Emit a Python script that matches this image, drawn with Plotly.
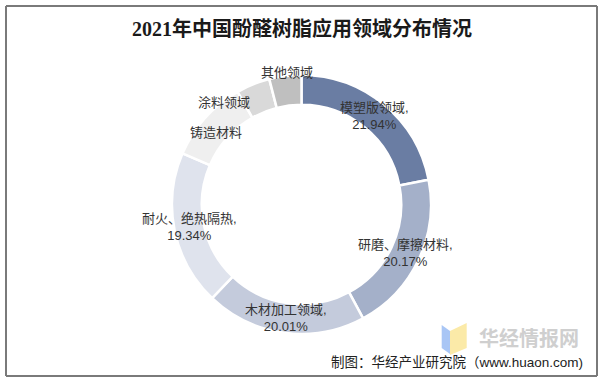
import math
import plotly.graph_objects as go

categories = ["模塑版领域", "研磨、摩擦材料", "木材加工领域", "耐火、绝热隔热", "铸造材料", "涂料领域", "其他领域"]
values = [21.94, 20.17, 20.01, 19.34, 10.34, 4.20, 4.00]
colors = ["#6a7da3", "#a4b0c9", "#c4cbdc", "#dfe3ed", "#efefef", "#d9d9d9", "#bfbfbf"]
title_text = "2021年中国酚醛树脂应用领域分布情况"
source_text = "制图：华经产业研究院（www.huaon.com)"

W, H = 603, 383
cx, cy, R = 301.5, 204.5, 129.5
hole = 0.77

fig = go.Figure(go.Pie(
    labels=categories, values=values, sort=False, direction="clockwise", rotation=0,
    hole=hole, textinfo="none", hoverinfo="label+percent",
    marker=dict(colors=colors, line=dict(color="white", width=2.5)),
    domain=dict(x=[(cx - R) / W, (cx + R) / W], y=[1 - (cy + R) / H, 1 - (cy - R) / H]),
    showlegend=False,
))

# label positions derived from slice mid-angles
shifts = {"其他领域": (0, 18), "涂料领域": (-35, -4), "铸造材料": (0, -4)}
total = sum(values)
cum = 0.0
rm = R * (1 + hole) / 2
for name, v in zip(categories, values):
    mid = (cum + v / 2) / total * 2 * math.pi
    cum += v
    px = cx + rm * math.sin(mid)
    py = cy - rm * math.cos(mid)
    txt = f"{name},<br>{v:.2f}%" if v >= 15 else name
    xs, ys = shifts.get(name, (0, 0))
    fig.add_annotation(x=px / W, y=1 - py / H, xref="paper", yref="paper", text=txt,
                       showarrow=False, xshift=xs, yshift=ys, align="center",
                       xanchor="center", yanchor="middle",
                       font=dict(family="Liberation Sans, Noto Sans CJK SC", size=13, color="#333333"))

# title
fig.add_annotation(x=0.5, y=1 - 28 / H, xref="paper", yref="paper", text=f"<b>{title_text}</b>",
                   showarrow=False, xanchor="center", yanchor="middle",
                   font=dict(family="Liberation Serif, Noto Sans CJK SC", size=20, color="#1a1a1a"))

# watermark logo
fig.add_shape(type="path", xref="paper", yref="paper",
              path=f"M {441.7/W},{1-325/H} L {450/W},{1-331/H} L {450/W},{1-354/H} L {441.7/W},{1-348/H} Z",
              fillcolor="#a9c6f5", line=dict(width=0), layer="below")
fig.add_shape(type="path", xref="paper", yref="paper",
              path=f"M {450/W},{1-331/H} L {466.7/W},{1-323/H} L {466.7/W},{1-348/H} L {450/W},{1-355/H} Z",
              fillcolor="#fbeaa8", line=dict(width=0), layer="below")
fig.add_annotation(x=477 / W, y=1 - 337 / H, xref="paper", yref="paper", text="<b>华经情报网</b>",
                   showarrow=False, xanchor="left", yanchor="middle",
                   font=dict(family="Noto Sans CJK SC", size=20, color="#cfcfcf"))

# source
fig.add_annotation(x=585 / W, y=1 - 362 / H, xref="paper", yref="paper", text=source_text,
                   showarrow=False, xanchor="right", yanchor="middle",
                   font=dict(family="Liberation Sans, Noto Sans CJK SC", size=13.5, color="#222222"))

# border (drawn as four lines)
bx0, bx1, by0, by1 = 6 / W, 597 / W, 1 - 376 / H, 1 - 6 / H
for (xa, ya, xb, yb) in [(bx0, by1, bx1, by1), (bx0, by0, bx1, by0), (bx0, by0, bx0, by1), (bx1, by0, bx1, by1)]:
    fig.add_shape(type="line", xref="paper", yref="paper", x0=xa, y0=ya, x1=xb, y1=yb,
                  line=dict(color="#7a7a7a", width=2), layer="above")

fig.update_layout(width=W, height=H, margin=dict(l=0, r=0, t=0, b=0),
                  paper_bgcolor="white", plot_bgcolor="white")
fig.write_html("out.html", config={"displayModeBar": False},
               post_script="document.body.style.margin='0';document.body.style.overflow='hidden';")
